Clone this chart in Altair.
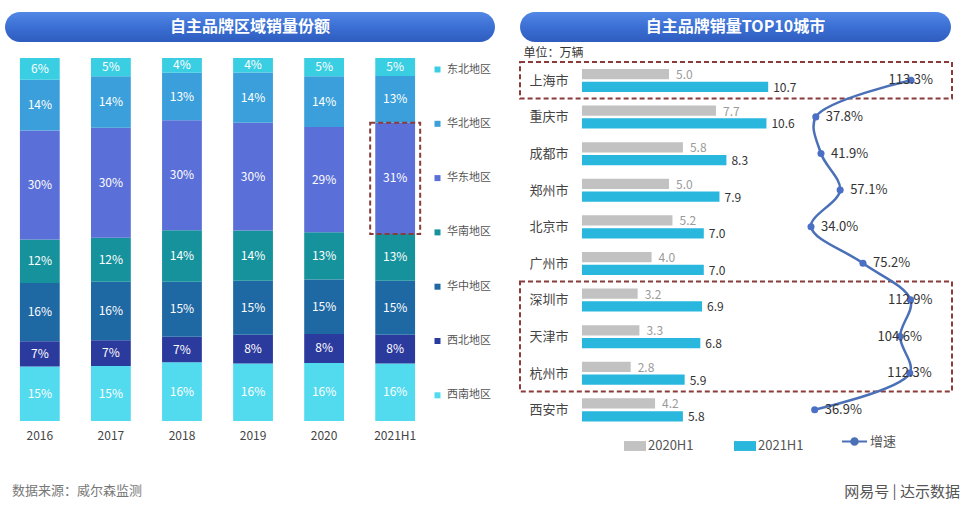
import altair as alt
import pandas as pd

# ---------------- data ----------------
years = ["2016", "2017", "2018", "2019", "2020", "2021H1"]
# regions listed bottom -> top of each stacked bar
regions = ["西南地区", "西北地区", "华中地区", "华南地区", "华东地区", "华北地区", "东北地区"]
share_xinan = [15, 15, 16, 16, 16, 16]
share_xibei = [7, 7, 7, 8, 8, 8]
share_huazhong = [16, 16, 15, 15, 15, 15]
share_huanan = [12, 12, 14, 14, 13, 13]
share_huadong = [30, 30, 30, 30, 29, 31]
share_huabei = [14, 14, 13, 14, 14, 13]
share_dongbei = [6, 5, 4, 4, 5, 5]
region_colors = ["#52daef", "#2b3a9d", "#1e68a3", "#15929c", "#5a6fd7", "#3a9fda", "#39cee2"]
highlight_share = ("2021H1", "华东地区")

cities = ["上海市", "重庆市", "成都市", "郑州市", "北京市", "广州市", "深圳市", "天津市", "杭州市", "西安市"]
sales_2020h1 = [5.0, 7.7, 5.8, 5.0, 5.2, 4.0, 3.2, 3.3, 2.8, 4.2]
sales_2021h1 = [10.7, 10.6, 8.3, 7.9, 7.0, 7.0, 6.9, 6.8, 5.9, 5.8]
growth = [113.3, 37.8, 41.9, 57.1, 34.0, 75.2, 112.9, 104.6, 112.3, 36.9]
series_names = ["2020H1", "2021H1"]
series_colors = ["#c2c2c2", "#29b7de"]
growth_name = "增速"
highlight_cities = [("上海市", "上海市"), ("深圳市", "杭州市")]

FONT = "Noto Sans CJK SC"

# ---------------- tables ----------------
share_cols = [share_xinan, share_xibei, share_huazhong, share_huanan,
              share_huadong, share_huabei, share_dongbei]
rows = []
for ri, (reg, vals) in enumerate(zip(regions, share_cols)):
    for yr, v in zip(years, vals):
        rows.append({"year": yr, "region": reg, "order": ri, "value": v})
df_share = pd.DataFrame(rows)

bar_rows = []
for i, c in enumerate(cities):
    bar_rows.append({"city": c, "idx": i, "series": series_names[0], "value": sales_2020h1[i]})
    bar_rows.append({"city": c, "idx": i, "series": series_names[1], "value": sales_2021h1[i]})
df_bar = pd.DataFrame(bar_rows)

df_growth = pd.DataFrame({"city": cities, "idx": list(range(len(cities))),
                          "growth": growth, "lab": [growth_name] * len(cities)})

df_box = pd.DataFrame({"c0": [cities.index(a) for a, b in highlight_cities],
                       "c1": [cities.index(b) for a, b in highlight_cities]})

# ---------------- banners ----------------
grad = alt.LinearGradient(gradient="linear", x1=0, x2=0, y1=0, y2=1,
                          stops=[alt.GradientStop(color="#5288e6", offset=0),
                                 alt.GradientStop(color="#3b6fd3", offset=0.5),
                                 alt.GradientStop(color="#2f5cbf", offset=1)])


def banner(text, w, h=30):
    d = pd.DataFrame({"t": [text]})
    rect = alt.Chart(d).mark_rect(cornerRadius=h / 2, color=grad).encode(
        x=alt.value(0), x2=alt.value(w), y=alt.value(0), y2=alt.value(h))
    txt = alt.Chart(d).mark_text(color="white", fontSize=16, fontWeight="bold").encode(
        x=alt.value(w / 2), y=alt.value(h / 2), text="t:N")
    return alt.layer(rect, txt).properties(width=w, height=h)


# ---------------- left chart ----------------
legend_order = list(reversed(regions))
legend_colors = list(reversed(region_colors))

base_l = alt.Chart(df_share).transform_stack(
    stack="value", groupby=["year"], as_=["y0", "y1"],
    sort=[alt.SortField("order", order="ascending")], offset="normalize"
).transform_calculate(ymid="(datum.y0 + datum.y1) / 2", lab="datum.value + '%'")

xl = alt.X("year:N", sort=years, scale=alt.Scale(paddingInner=0.44, paddingOuter=0.21),
           axis=alt.Axis(title=None, labelAngle=0, domain=False, ticks=False, labelPadding=9,
                         labelFontSize=12, labelColor="#444"))
yl_scale = alt.Scale(domain=[0, 1])

bars_l = base_l.mark_bar().encode(
    x=xl,
    y=alt.Y("y0:Q", scale=yl_scale, axis=None), y2="y1:Q",
    color=alt.Color("region:N", scale=alt.Scale(domain=legend_order, range=legend_colors),
                    legend=alt.Legend(title=None, orient="none", legendX=427, legendY=6,
                                      symbolType="square", symbolSize=36, labelFontSize=11,
                                      labelColor="#555", rowPadding=42.3, labelOffset=4,
                                      padding=0, symbolStrokeWidth=0)),
)
text_l = base_l.mark_text(color="white", fontSize=12).encode(
    x=xl, y=alt.Y("ymid:Q", scale=yl_scale, axis=None), text="lab:N")
box_l = base_l.transform_filter(
    (alt.datum.year == highlight_share[0]) & (alt.datum.region == highlight_share[1])
).mark_bar(size=50, fillOpacity=0, stroke="#8c3b3b", strokeDash=[5, 3], strokeWidth=2).encode(
    x=xl, y=alt.Y("y0:Q", scale=yl_scale, axis=None), y2="y1:Q")

left = alt.layer(bars_l, text_l, box_l).properties(
    width=425, height=363,
    title=alt.Title("数据来源：威尔森监测", orient="bottom", anchor="start", fontSize=13,
                    color="#777", fontWeight="normal", offset=44, dx=7))

# ---------------- right chart ----------------
BAR_MIN, BAR_MAX = -3.56, 21.26
G_MIN, G_MAX = -196.8, 145.8
bar_scale = alt.Scale(domain=[BAR_MIN, BAR_MAX], nice=False, zero=False)
g_scale = alt.Scale(domain=[G_MIN, G_MAX], nice=False, zero=False)
y_scale = alt.Scale(domain=[-0.5, len(cities) - 0.5], reverse=True, nice=False, zero=False)
city_expr = "[" + ",".join("'%s'" % c for c in cities) + "][datum.value]"
yaxis = alt.Axis(values=list(range(len(cities))), labelExpr=city_expr, domain=False, ticks=False,
                 tickSize=0, grid=False, labelAlign="left", labelPadding=-9, labelFontSize=13,
                 labelColor="#444", title="单位：万辆", titleAngle=0, titleAlign="left", titleX=3,
                 titleY=-10, titleBaseline="middle", titleFontSize=12, titleColor="#333",
                 titleFontWeight="normal")


def Y(field):
    return alt.Y(field, scale=y_scale, axis=yaxis)


base_b = alt.Chart(df_bar).transform_calculate(
    yb0="datum.idx + (datum.series == '%s' ? -0.31 : 0.04)" % series_names[0],
).transform_calculate(yb1="datum.yb0 + 0.28", ymid="datum.yb0 + 0.14")

bars_r = base_b.mark_rect().encode(
    x=alt.X("value:Q", scale=bar_scale, axis=None), x2=alt.datum(0),
    y=Y("yb0:Q"), y2="yb1:Q",
    color=alt.Color("series:N", scale=alt.Scale(domain=series_names, range=series_colors),
                    legend=alt.Legend(title=None, orient="none", legendX=104, legendY=373,
                                      direction="horizontal", symbolType="M-1,-0.45H1V0.45H-1Z",
                                      symbolSize=484, labelFontSize=13, labelColor="#555",
                                      labelOffset=2, columnPadding=40, padding=0,
                                      symbolStrokeWidth=0)),
)
lab_2020 = base_b.transform_filter(alt.datum.series == series_names[0]).mark_text(
    align="left", dx=7, dy=1, color="#9a9a9a", fontSize=12).encode(
    x=alt.X("value:Q", scale=bar_scale, axis=None), y=Y("ymid:Q"),
    text=alt.Text("value:Q", format=".1f"))
lab_2021 = base_b.transform_filter(alt.datum.series == series_names[1]).mark_text(
    align="left", dx=5, dy=1, color="#333", fontSize=12).encode(
    x=alt.X("value:Q", scale=bar_scale, axis=None), y=Y("ymid:Q"),
    text=alt.Text("value:Q", format=".1f"))

base_g = alt.Chart(df_growth).transform_calculate(glab="format(datum.growth, '.1f') + '%'")
line_g = base_g.mark_line(interpolate="catmull-rom", strokeWidth=2.5).encode(
    x=alt.X("growth:Q", scale=g_scale, axis=None), y=Y("idx:Q"), order="idx:Q",
    stroke=alt.Stroke("lab:N", scale=alt.Scale(domain=[growth_name], range=["#4a70b8"]),
                      legend=alt.Legend(title=None, orient="none", legendX=321, legendY=366,
                                        symbolType="M-1,0H1M0.26,0A0.26,0.26 0 1 1 -0.26,0A0.26,0.26 0 1 1 0.26,0Z",
                                        symbolSize=625, symbolStrokeWidth=2,
                                        symbolFillColor="#4a70b8",
                                        labelFontSize=13, labelColor="#555", labelOffset=2,
                                        padding=0)))
pts_g = base_g.mark_point(filled=True, size=50, color="#4a6fc4", opacity=1).encode(
    x=alt.X("growth:Q", scale=g_scale, axis=None), y=Y("idx:Q"))
glab_lo = base_g.transform_filter(alt.datum.growth < 100).mark_text(
    align="left", dx=10, color="#333", fontSize=13).encode(
    x=alt.X("growth:Q", scale=g_scale, axis=None), y=Y("idx:Q"), text="glab:N")
glab_hi = base_g.transform_filter(alt.datum.growth >= 100).mark_text(
    align="right", dx=22, color="#333", fontSize=13).encode(
    x=alt.X("growth:Q", scale=g_scale, axis=None), y=Y("idx:Q"), text="glab:N")

box_r = alt.Chart(df_box).transform_calculate(
    yy0="datum.c0 - 0.5", yy1="datum.c1 + 0.5").mark_rect(
    fillOpacity=0, stroke="#8c3b3b", strokeDash=[5, 3], strokeWidth=2).encode(
    x=alt.datum(0, scale=alt.Scale(domain=[0, 1], nice=False, zero=False), axis=None),
    x2=alt.datum(1), y=Y("yy0:Q"), y2="yy1:Q")

right = alt.layer(box_r, bars_r, lab_2020, lab_2021, line_g, pts_g, glab_lo, glab_hi).resolve_scale(
    x="independent", color="independent", stroke="independent").properties(
    width=432, height=366,
    title=alt.Title("网易号 | 达示数据", orient="bottom", anchor="end", fontSize=15,
                    color="#555", fontWeight="normal", offset=32, dx=7))

# ---------------- compose ----------------
IND = dict(color="independent", stroke="independent")
col_l = alt.vconcat(banner("自主品牌区域销量份额", 490), left, spacing=16) \
    .resolve_scale(**IND).resolve_legend(**IND)
col_r = alt.vconcat(banner("自主品牌销量TOP10城市", 431), right, spacing=4) \
    .resolve_scale(**IND).resolve_legend(**IND)

chart = alt.hconcat(col_l, col_r, spacing=24).resolve_scale(**IND).resolve_legend(**IND).properties(
    padding={"left": 5, "top": 12, "right": 0, "bottom": 0},
    background="white",
).configure(font=FONT).configure_view(stroke=None)

chart.save("out.html", embed_options={"renderer": "svg", "actions": False})
